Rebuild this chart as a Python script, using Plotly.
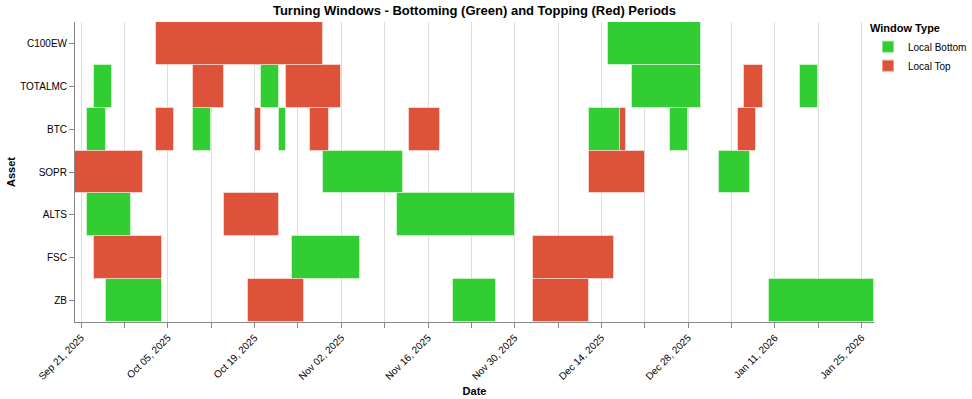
import plotly.graph_objects as go
import pandas as pd

# ---- data ----
assets_order = ["C100EW", "TOTALMC", "BTC", "SOPR", "ALTS", "FSC", "ZB"]

win_asset = [
    "C100EW", "C100EW",
    "TOTALMC", "TOTALMC", "TOTALMC", "TOTALMC", "TOTALMC", "TOTALMC", "TOTALMC",
    "BTC", "BTC", "BTC", "BTC", "BTC", "BTC", "BTC", "BTC", "BTC", "BTC", "BTC",
    "SOPR", "SOPR", "SOPR", "SOPR",
    "ALTS", "ALTS", "ALTS",
    "FSC", "FSC", "FSC",
    "ZB", "ZB", "ZB", "ZB", "ZB",
]
win_start = [
    "2025-10-03", "2025-12-15",
    "2025-09-23", "2025-10-09", "2025-10-20", "2025-10-24", "2025-12-19", "2026-01-06", "2026-01-15",
    "2025-09-22", "2025-10-03", "2025-10-09", "2025-10-19", "2025-10-23", "2025-10-28", "2025-11-13",
    "2025-12-12", "2025-12-17", "2025-12-25", "2026-01-05",
    "2025-09-20", "2025-10-30", "2025-12-12", "2026-01-02",
    "2025-09-22", "2025-10-14", "2025-11-11",
    "2025-09-23", "2025-10-25", "2025-12-03",
    "2025-09-25", "2025-10-18", "2025-11-20", "2025-12-03", "2026-01-10",
]
win_end = [
    "2025-10-30", "2025-12-30",
    "2025-09-26", "2025-10-14", "2025-10-23", "2025-11-02", "2025-12-30", "2026-01-09", "2026-01-18",
    "2025-09-25", "2025-10-06", "2025-10-12", "2025-10-20", "2025-10-24", "2025-10-31", "2025-11-18",
    "2025-12-17", "2025-12-18", "2025-12-28", "2026-01-08",
    "2025-10-01", "2025-11-12", "2025-12-21", "2026-01-07",
    "2025-09-29", "2025-10-23", "2025-11-30",
    "2025-10-04", "2025-11-05", "2025-12-16",
    "2025-10-04", "2025-10-27", "2025-11-27", "2025-12-12", "2026-01-27",
]
win_type = [
    "Local Top", "Local Bottom",
    "Local Bottom", "Local Top", "Local Bottom", "Local Top", "Local Bottom", "Local Top", "Local Bottom",
    "Local Bottom", "Local Top", "Local Bottom", "Local Top", "Local Bottom", "Local Top", "Local Top",
    "Local Bottom", "Local Top", "Local Bottom", "Local Top",
    "Local Top", "Local Bottom", "Local Top", "Local Bottom",
    "Local Bottom", "Local Top", "Local Bottom",
    "Local Top", "Local Bottom", "Local Top",
    "Local Bottom", "Local Top", "Local Bottom", "Local Top", "Local Bottom",
]
type_order = ["Local Bottom", "Local Top"]
type_colors = {"Local Bottom": "#32CD32", "Local Top": "#DF523A"}

tick_dates = pd.date_range("2025-09-21", "2026-01-25", freq="7D")
tick_text = [d.strftime("%b %d, %Y") if i % 2 == 0 else "" for i, d in enumerate(tick_dates)]

# ---- figure ----
df = pd.DataFrame({"asset": win_asset, "start": pd.to_datetime(win_start),
                   "end": pd.to_datetime(win_end), "type": win_type})
df["dur"] = (df["end"] - df["start"]).dt.total_seconds() * 1000

font = "Liberation Sans, Arial, Helvetica, sans-serif"
fig = go.Figure()
for t in type_order:
    sub = df[df["type"] == t]
    fig.add_trace(go.Bar(
        y=sub["asset"], x=sub["dur"], base=sub["start"].dt.strftime("%Y-%m-%d"),
        orientation="h", name=t,
        marker=dict(color=type_colors[t], line=dict(color="rgba(255,255,255,0.45)", width=1)),
    ))

fig.update_layout(
    width=972, height=399,
    margin=dict(l=75, r=98, t=22, b=77, autoexpand=False),
    barmode="overlay", bargap=0,
    plot_bgcolor="white", paper_bgcolor="white",
    font=dict(family=font, size=10, color="black"),
    title=dict(text="<b>Turning Windows - Bottoming (Green) and Topping (Red) Periods</b>",
               x=0.5, xref="paper", xanchor="center", y=0.975, yref="container",
               yanchor="middle", font=dict(size=13, family=font)),
    legend=dict(title=dict(text="<b>Window Type</b>", font=dict(size=11)),
                x=0.893, xref="container", xanchor="left", y=0.955, yref="container", yanchor="top",
                font=dict(size=10), itemsizing="constant", itemwidth=30, tracegroupgap=0,
                bgcolor="rgba(0,0,0,0)"),
    xaxis=dict(type="date", range=["2025-09-20", "2026-01-27"], automargin=False,
               tickmode="array", tickvals=tick_dates, ticktext=tick_text,
               tickangle=-45, ticks="outside", ticklen=5, tickcolor="#888",
               showgrid=True, gridcolor="#ddd", gridwidth=1,
               showline=True, linecolor="#888", linewidth=1, zeroline=False,
               title=dict(text="<b>Date</b>", font=dict(size=11), standoff=6)),
    yaxis=dict(type="category", categoryorder="array", categoryarray=assets_order,
               autorange="reversed", automargin=False, ticks="outside", ticklen=5, tickcolor="#888",
               showgrid=False, showline=True, linecolor="#888", linewidth=1,
               title=dict(text="<b>Asset</b>", font=dict(size=11), standoff=2)),
)

fig.write_html("out.html", config={"displayModeBar": False},
               post_script="document.body.style.margin='0';document.body.style.padding='0';")
